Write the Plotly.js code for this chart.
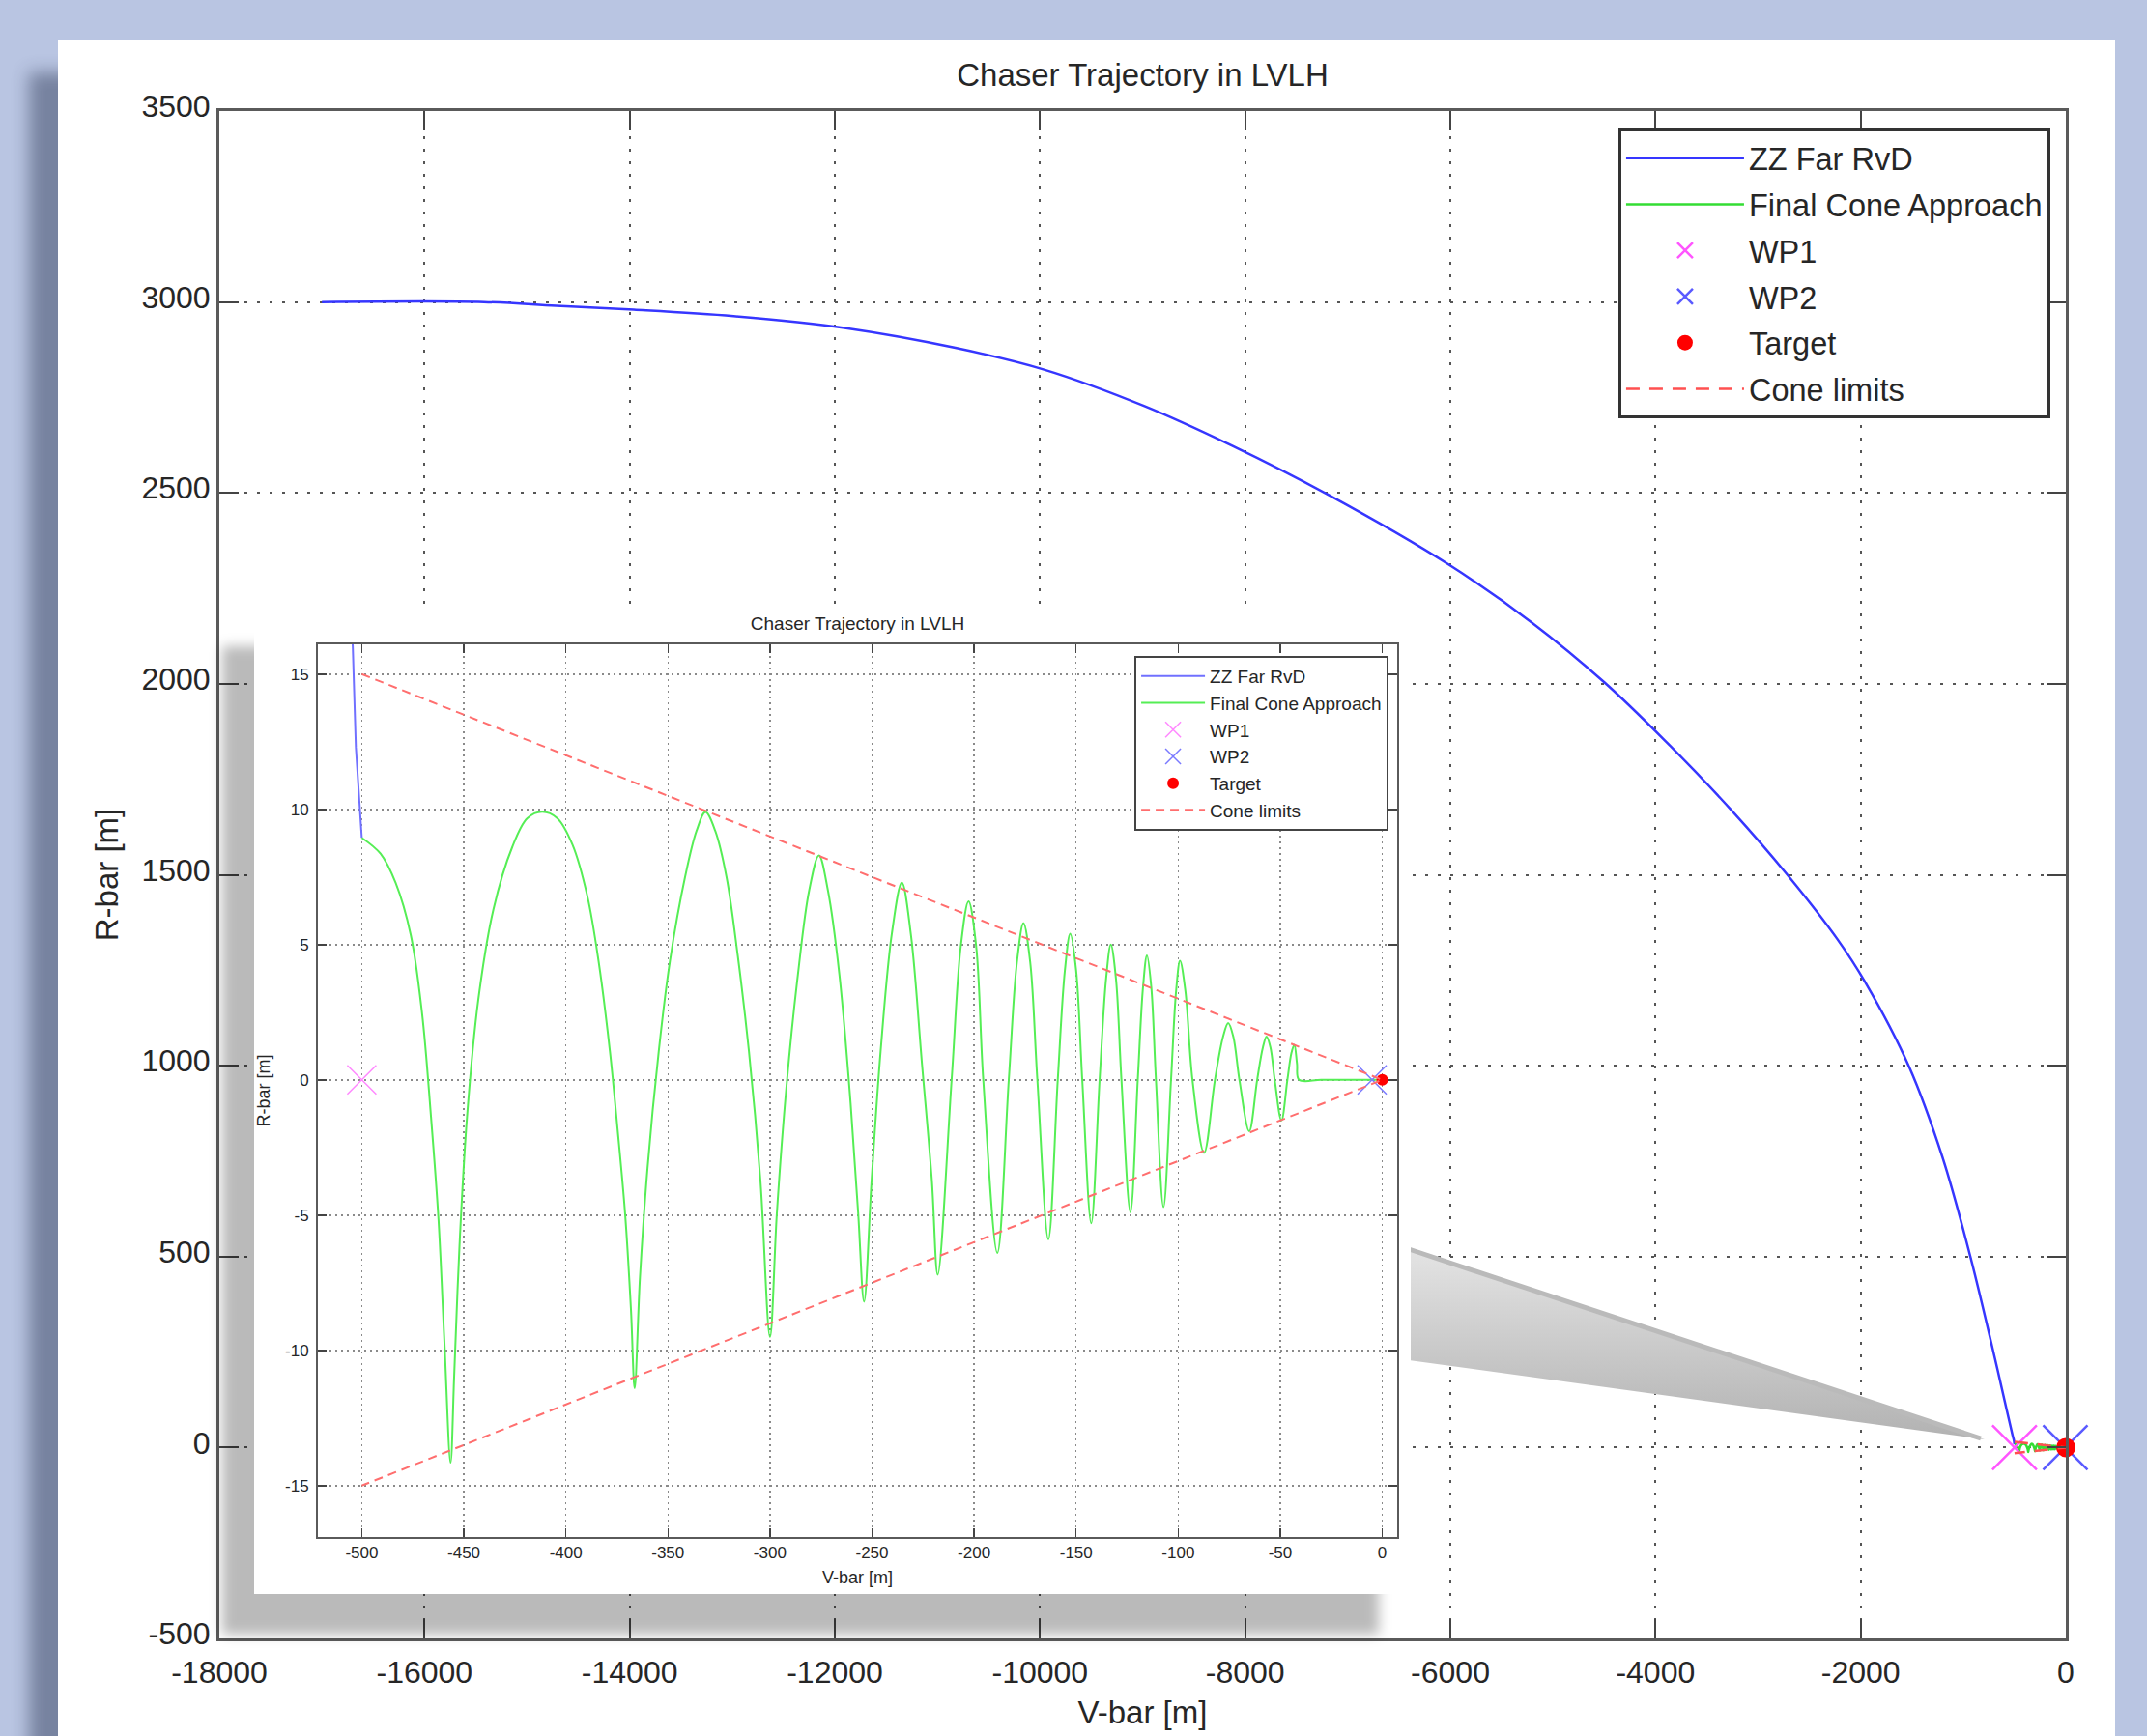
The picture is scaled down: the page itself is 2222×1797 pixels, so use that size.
<!DOCTYPE html>
<html>
<head>
<meta charset="utf-8">
<script src="https://cdn.plot.ly/plotly-3.0.1.min.js"></script>
<style>
html,body{margin:0;padding:0;width:2222px;height:1797px;overflow:hidden;background:#b9c5e2;}
#panel{position:absolute;left:60px;top:41px;width:2129px;height:1820px;background:#fff;box-shadow:-30px 34px 16px rgba(40,50,80,0.45);}
#main{position:absolute;left:0;top:0;width:2222px;height:1797px;}
#wedge{position:absolute;left:0;top:0;pointer-events:none;}
#inset{position:absolute;left:263px;top:627px;width:1197px;height:1023px;background:#fff;box-shadow:-33px 42px 12px rgba(0,0,0,0.27);}
</style>
</head>
<body>
<div id="panel"></div>
<div id="main"></div>
<svg id="wedge" width="2222" height="1797">
  <defs>
    <linearGradient id="wg" x1="0" y1="0" x2="0" y2="1">
      <stop offset="0" stop-color="#e4e4e4"/>
      <stop offset="1" stop-color="#b2b2b2"/>
    </linearGradient>
  </defs>
  <polygon points="1458,1291 2054,1490 1458,1408" fill="url(#wg)"/>
  <line x1="1458" y1="1293" x2="2050" y2="1489" stroke="#bababa" stroke-width="5"/>
</svg>
<div id="inset"></div>
<script>
// ---------------- data ----------------
const chartTitle = 'Chaser Trajectory in LVLH';
const xTitle = 'V-bar [m]';
const yTitle = 'R-bar [m]';
const seriesNames = ['ZZ Far RvD', 'Final Cone Approach', 'WP1', 'WP2', 'Target', 'Cone limits'];

// ZZ Far RvD (blue) trajectory, V-bar / R-bar in metres
const farX = [-17000, -15420, -14717, -13960, -12987, -11906, -10825, -9960, -8987, -8122, -7203,
  -6014, -5203, -4499, -3851, -3256, -2715, -2229, -1959, -1526, -1201, -931, -659,
  -580, -520, -506.5, -504.4, -502.9, -500];
const farY = [3000, 3000, 2990, 2980, 2963, 2932, 2880, 2823, 2728, 2623, 2497,
  2312, 2160, 2004, 1836, 1668, 1500, 1332, 1220, 996, 759, 500, 196,
  103, 33, 19, 16, 12.3, 8.95];

// Final Cone Approach (green) trajectory
const coneApX = [-500, -490.8, -483.4, -476.0, -470.5, -466.1, -462.4, -459.5, -456.5,
  -454.7, -452.1, -448.4, -442.9, -435.5, -426.3, -418.9, -411.6, -404.2, -396.8, -389.5, -384, -378.4, -374.7, -371, -368.1, -366.3,
  -363.7, -360, -354.5, -349, -341.6, -336, -331.6, -326.8, -321.3, -315.8, -310.3, -304.7, -300,
  -296.6, -291.8, -286.3, -280.8, -276, -271.6, -266, -260.5, -256.8, -253.9,
  -250.2, -245.8, -240.3, -235.4, -231, -225.5, -220.7, -217.8,
  -211, -206.5, -202.7, -199, -195.5, -188.6,
  -183, -179, -175.8, -172.5, -169, -163.6,
  -159, -155.5, -152.9, -150, -147, -142.6,
  -138.5, -135.3, -133, -130.5, -127.8, -123.4,
  -119.8, -117.2, -115.3, -113.2, -110.9, -107.2,
  -103.5, -101, -99.1, -96.5, -93, -87.3,
  -82, -78, -75.5, -73, -70, -65.2,
  -61.3, -58.5, -56.7, -54.8, -52.7, -49.4,
  -46.5, -44.5, -43.1, -41.8, -40.8, -30, -15, 0];
const coneApY = [8.95, 8.36, 7.28, 5.36, 2.49, -1.34, -5.17, -9.7, -14.15,
  -10.9, -6.1, -1.34, 2.97, 6.3, 8.6, 9.67, 9.91, 9.67, 8.7, 6.8, 4.4, 1.05, -1.8, -4.93, -8.5, -11.4,
  -7.3, -3.26, 1.05, 4.4, 7.5, 9.2, 9.9, 9.2, 7.5, 4.6, 1.05, -3.7, -9.5,
  -4.9, -0.14, 3.9, 7.0, 8.3, 7.0, 3.9, -0.86, -4.9, -8.2,
  -3.7, 1.05, 5.4, 7.3, 5.4, 0.57, -3.7, -7.2,
  0, 4.95, 6.6, 4.95, 0, -6.4,
  0, 4.35, 5.8, 4.35, 0, -5.9,
  0, 4.05, 5.4, 4.05, 0, -5.3,
  0, 3.75, 5.0, 3.75, 0, -4.9,
  0, 3.45, 4.6, 3.45, 0, -4.7,
  0, 3.3, 4.4, 3.3, 0, -2.7,
  0, 1.6, 2.1, 1.6, 0, -1.9,
  0, 1.2, 1.6, 1.2, 0, -1.5,
  0, 1.0, 1.3, 0.6, 0, 0, 0, 0];

const wp1X = [-500], wp1Y = [0];
const wp2X = [-5],   wp2Y = [0];
const targetX = [0], targetY = [0];

// Cone limits (upper edge to apex to lower edge)
const coneX = [-500, 0, -500];
const coneY = [15, 0, -15];

// Tick values
const mainXTicks = [-18000, -16000, -14000, -12000, -10000, -8000, -6000, -4000, -2000, 0];
const mainYTicks = [-500, 0, 500, 1000, 1500, 2000, 2500, 3000, 3500];
const insetXTicks = [-500, -450, -400, -350, -300, -250, -200, -150, -100, -50, 0];
const insetYTicks = [-15, -10, -5, 0, 5, 10, 15];

// ---------------- styling ----------------
const FONT = '"Liberation Sans", Arial, sans-serif';
const TXT = '#262626';

function makeTraces(s) {
  const t = [
    {x: farX, y: farY, name: seriesNames[0], type: 'scatter', mode: 'lines',
     line: {color: s.blue, width: s.lw, shape: s.blueShape, smoothing: 1}},
    {x: coneApX, y: coneApY, name: seriesNames[1], type: 'scatter', mode: 'lines',
     line: {color: s.green, width: s.lw, shape: 'spline', smoothing: 1}},
    {x: wp1X, y: wp1Y, name: seriesNames[2], type: 'scatter', mode: 'markers', cliponaxis: false,
     marker: {symbol: 'x-thin-open', size: s.xs, color: s.pink, line: {color: s.pink, width: s.mw}}},
    {x: wp2X, y: wp2Y, name: seriesNames[3], type: 'scatter', mode: 'markers', cliponaxis: false,
     marker: {symbol: 'x-thin-open', size: s.xs, color: s.blueX, line: {color: s.blueX, width: s.mw}}},
    {x: targetX, y: targetY, name: seriesNames[4], type: 'scatter', mode: 'markers', cliponaxis: false,
     marker: {symbol: 'circle', size: s.ts, color: '#ff0000'}},
    {x: coneX, y: coneY, name: seriesNames[5], type: 'scatter', mode: 'lines',
     line: {color: s.red, width: s.lw, dash: s.dash}}
  ];
  t.forEach(tr => { tr.legendgroup = tr.name; });
  return t;
}

function axis(ticks, range, s, title, isY) {
  return {
    range: range, tickmode: 'array', tickvals: ticks, ticktext: ticks.map(v => String(v)),
    ticks: 'inside', ticklen: s.ticklen, tickwidth: s.tickw, tickcolor: '#444',
    showline: true, linewidth: s.axw, linecolor: '#5a5a5a', mirror: 'ticks',
    showgrid: true, gridcolor: s.gridc, gridwidth: s.gridw, griddash: s.griddash,
    zeroline: false, tickfont: {size: s.tickfs, color: TXT, family: FONT},
    ticklabelstandoff: isY ? s.tlsy : s.tlsx,
    ticklabelshift: isY ? s.shy : 0,
    title: {text: title, font: {size: s.titlefs, color: TXT, family: FONT}, standoff: isY ? s.ystand : s.xstand},
    automargin: false, fixedrange: true
  };
}

// ---------------- main chart ----------------
const mainStyle = {blue: '#3636ff', green: '#33dd33', pink: '#ff55ff', blueX: '#5a5aff', red: '#ff5050',
  blueShape: 'spline', lw: 2.5, xs: 46, mw: 2.5, ts: 20, dash: '14px,10px',
  ticklen: 20, tickw: 2, axw: 3, gridc: '#555', gridw: 2, griddash: '3px,10px',
  tickfs: 32, titlefs: 33, tlsx: 5, tlsy: 0, shy: -5, ystand: 14, xstand: 13};

const mainLayout = {
  width: 2222, height: 1797,
  paper_bgcolor: 'rgba(0,0,0,0)', plot_bgcolor: '#ffffff',
  margin: {l: 227, r: 84, t: 115, b: 101, pad: 0},
  font: {family: FONT, size: 32, color: TXT},
  title: {text: chartTitle, font: {size: 33, color: TXT, family: FONT}, x: 0.5, xref: 'paper', xanchor: 'center',
          y: 1, yref: 'paper', yanchor: 'bottom', pad: {b: 26}},
  xaxis: axis(mainXTicks, [-18000, 0], mainStyle, xTitle, false),
  yaxis: axis(mainYTicks, [-500, 3500], mainStyle, yTitle, true),
  showlegend: true,
  legend: {x: 0.9916, xanchor: 'right', y: 0.9886, yanchor: 'top', bgcolor: '#ffffff',
           bordercolor: '#333', borderwidth: 3, font: {size: 32.5, color: TXT, family: FONT},
           itemwidth: 122, traceorder: 'grouped', tracegroupgap: 2.5},
};

Plotly.newPlot('main', makeTraces(mainStyle), mainLayout, {displayModeBar: false, staticPlot: true});

// ---------------- inset (zoom) chart ----------------
const insetStyle = {blue: '#7070ff', green: '#55ee55', pink: '#ff88ff', blueX: '#7a7aff', red: '#ff6e6e',
  blueShape: 'linear', lw: 2, xs: 30, mw: 1.5, ts: 12, dash: '9px,6px',
  ticklen: 9, tickw: 1.5, axw: 2, gridc: '#8a8a8a', gridw: 1.5, griddash: '2px,4px',
  tickfs: 17, titlefs: 18, tlsx: 0, tlsy: 4, shy: 0, ystand: 12, xstand: 10};

const insetLayout = {
  width: 1197, height: 1023,
  paper_bgcolor: '#ffffff', plot_bgcolor: '#ffffff',
  margin: {l: 66, r: 14, t: 40, b: 59, pad: 0},
  font: {family: FONT, size: 18, color: TXT},
  title: {text: chartTitle, font: {size: 19, color: TXT, family: FONT}, x: 0.5, xref: 'paper', xanchor: 'center',
          y: 1, yref: 'paper', yanchor: 'bottom', pad: {b: 15}},
  xaxis: axis(insetXTicks, [-521.5, 7.3], insetStyle, xTitle, false),
  yaxis: axis(insetYTicks, [-16.9, 16.1], insetStyle, yTitle, true),
  showlegend: true,
  legend: {x: 0.992, xanchor: 'right', y: 0.987, yanchor: 'top', bgcolor: '#ffffff',
           bordercolor: '#444', borderwidth: 2, font: {size: 19, color: TXT, family: FONT},
           itemwidth: 66, traceorder: 'grouped', tracegroupgap: 0},
};

Plotly.newPlot('inset', makeTraces(insetStyle), insetLayout, {displayModeBar: false, staticPlot: true});
</script>
</body>
</html>
